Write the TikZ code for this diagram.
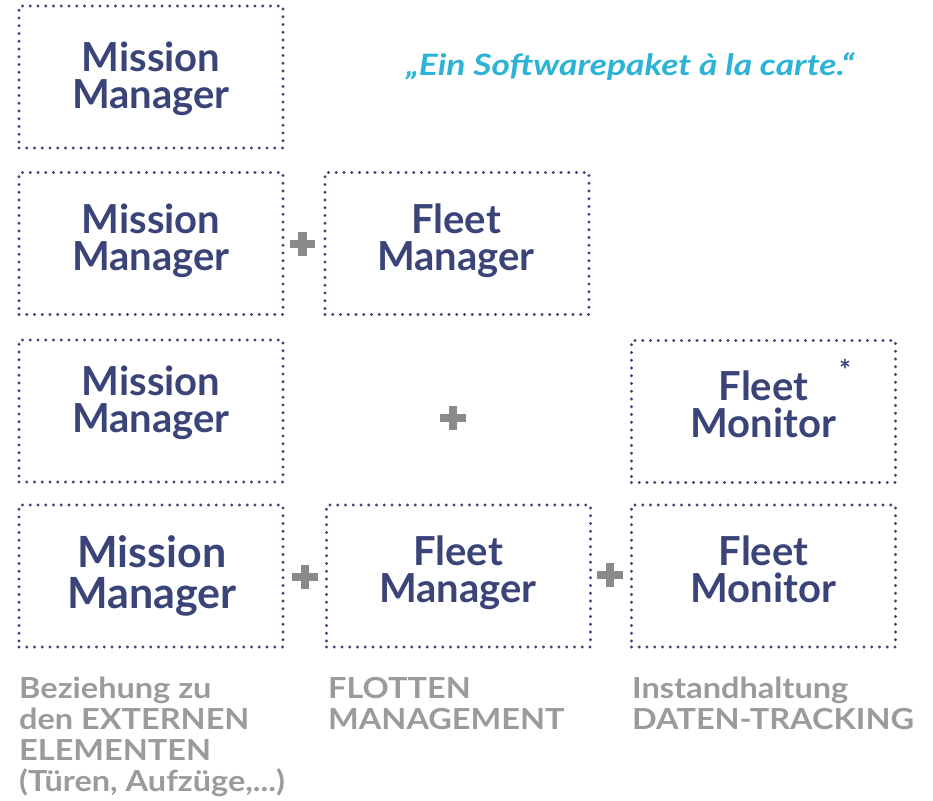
\documentclass[tikz,border=0pt]{standalone}
\usepackage{fontspec}
\setmainfont{Lato}
\newfontfamily\quotefont{Lato}[FakeStretch=1.2]
\newfontfamily\capfont{Lato}[FakeStretch=1.12]
\definecolor{navy}{HTML}{3B4478}
\definecolor{cyanq}{HTML}{2DB3D6}
\definecolor{plusgray}{HTML}{8A8A8A}
\definecolor{textgray}{HTML}{9B9B9B}
\begin{document}
\begin{tikzpicture}[x=1pt,y=-1pt,
  box/.style={draw=navy, line width=3.2pt, dash pattern=on 0pt off 7.75pt, line cap=round,
    minimum width=264pt, minimum height=142pt, inner sep=0pt},
  lbl/.style={anchor=base, inner sep=0pt, text=navy, align=center,
    font=\fontsize{40}{36.5}\selectfont\bfseries},
  biglbl/.style={lbl, font=\fontsize{43}{41}\selectfont\bfseries},
  plusnode/.style={inner sep=0pt, minimum width=25pt, minimum height=24pt},
  cross/.style={draw=plusgray, line width=8.5pt},
  captext/.style={anchor=base west, inner sep=0pt, text=textgray, align=left,
    font=\capfont\fontsize{29}{31}\selectfont\bfseries}
]
\useasboundingbox (0,0) rectangle (933,800);

% row 1
\node[box] (m1) at (151,77) {};
\node[lbl] (m1t) at (151,108) {Mission\\Manager};
\node[text=cyanq, inner sep=0pt, anchor=base, font=\quotefont\fontsize{29.5}{30}\selectfont\bfseries\itshape] (quote) at (630,75) {„Ein Softwarepaket à la carte.“};

% row 2
\node[box] (m2) at (151,243.5) {};
\node[lbl] (m2t) at (151,270) {Mission\\Manager};
\node[box] (f2) at (457,243.5) {};
\node[lbl] (f2t) at (456,270) {Fleet\\Manager};
\node[plusnode] (p2) at (302.5,244) {};

% row 3
\node[box] (m3) at (151,411) {};
\node[lbl] (m3t) at (151,432) {Mission\\Manager};
\node[box] (fm3) at (763.5,411.5) {};
\node[lbl] (fm3t) at (763.5,437) {Fleet\\Monitor};
\node[plusnode] (p3) at (453,418) {};
\node[text=navy, inner sep=0pt, font=\fontsize{28}{28}\selectfont\bfseries] (ast) at (845,370) {*};

% row 4
\node[box] (m4) at (151,576) {};
\node[biglbl] (m4t) at (152,608) {Mission\\Manager};
\node[box] (f4) at (458.5,576) {};
\node[lbl] (f4t) at (458,602) {Fleet\\Manager};
\node[box] (fm4) at (763.5,576) {};
\node[lbl] (fm4t) at (763.5,602) {Fleet\\Monitor};
\node[plusnode] (p4a) at (305,577) {};
\node[plusnode] (p4b) at (610,575) {};

\foreach \p in {p2,p3,p4a,p4b}{
  \draw[cross] (\p.west) -- (\p.east) (\p.north) -- (\p.south);
}

% captions (anchored at the baseline of their last line)
\node[captext] (c1) at (19,791) {Beziehung zu\\den EXTERNEN\\ELEMENTEN\\(Türen, Aufzüge,...)};
\node[captext] (c2) at (328,729) {FLOTTEN\\MANAGEMENT};
\node[captext] (c3) at (632,729) {Instandhaltung\\DATEN-TRACKING};
\end{tikzpicture}
\end{document}
